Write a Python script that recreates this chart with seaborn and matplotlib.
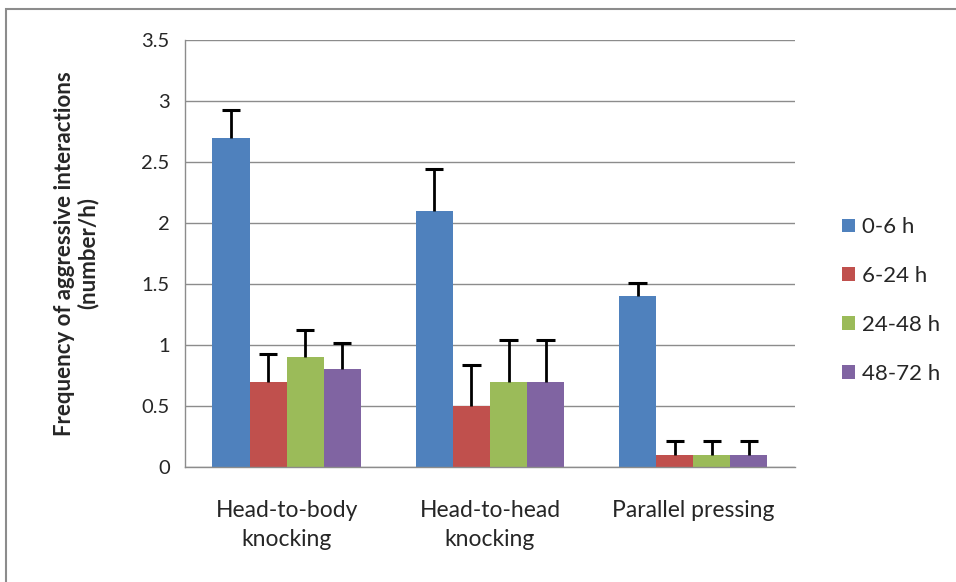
import pandas as pd
import numpy as np
import matplotlib.pyplot as plt
import seaborn as sns
from matplotlib.patches import Rectangle

categories = ["Head-to-body\nknocking", "Head-to-head\nknocking", "Parallel pressing"]
periods = ["0-6 h", "6-24 h", "24-48 h", "48-72 h"]
means = {
    "0-6 h": [2.7, 2.1, 1.4],
    "6-24 h": [0.7, 0.5, 0.1],
    "24-48 h": [0.9, 0.7, 0.1],
    "48-72 h": [0.8, 0.7, 0.1],
}
errors = {
    "0-6 h": [0.23, 0.34, 0.11],
    "6-24 h": [0.23, 0.34, 0.11],
    "24-48 h": [0.22, 0.34, 0.11],
    "48-72 h": [0.22, 0.34, 0.11],
}
colors = ["#4f81bd", "#c0504d", "#9bbb59", "#8064a2"]

rows = []
for p in periods:
    for c, m, e in zip(categories, means[p], errors[p]):
        rows.append({"behaviour": c, "period": p, "mean": m, "err": e})
df = pd.DataFrame(rows)

sns.set_style("white")
plt.rcParams["font.family"] = ["Lato", "DejaVu Sans"]

fig = plt.figure(figsize=(9.56, 5.82), dpi=100)
ax = fig.add_axes([0.1935, 0.1976, 0.638, 0.7337])

sns.barplot(data=df, x="behaviour", y="mean", hue="period", order=categories,
            hue_order=periods, palette=colors, width=0.73, saturation=1,
            errorbar=None, ax=ax, legend=True, linewidth=0)

# one-sided error bars, from the bar tops upwards
for container, p in zip(ax.containers, periods):
    sub = df[df["period"] == p].set_index("behaviour").loc[categories]
    xs = np.array([b.get_x() + b.get_width() / 2 for b in container])
    tops = sub["mean"].values + sub["err"].values
    ax.vlines(xs, sub["mean"].values, tops, color="black", linewidth=2, zorder=3)
    ax.hlines(tops, xs - 0.045, xs + 0.045, color="black", linewidth=2.2, zorder=3)

ax.set_ylim(0, 3.5)
ax.set_xlim(-0.5, 2.5)
ax.set_yticks(np.arange(0, 3.51, 0.5))
ax.set_yticklabels(["0", "0.5", "1", "1.5", "2", "2.5", "3", "3.5"], fontsize=14.5)
ax.yaxis.grid(True, color="#8c8c8c", linewidth=1)
ax.set_axisbelow(True)
ax.tick_params(axis="y", direction="out", length=5, color="#8c8c8c", pad=6)

ax.set_xticks([0, 1, 2])
ax.set_xticklabels(categories, fontsize=16.5, linespacing=1.45)
ax.set_xticks([-0.5, 0.5, 1.5, 2.5], minor=True)
ax.tick_params(axis="x", which="major", length=0, pad=24)
ax.tick_params(axis="x", which="minor", direction="out", length=6, color="#8c8c8c")
ax.set_xlabel("")
ax.set_ylabel("Frequency of aggressive interactions\n(number/h)", fontsize=16,
              fontweight="bold", labelpad=31, linespacing=1.1)

for s in ["top", "right"]:
    ax.spines[s].set_visible(False)
for s in ["left", "bottom"]:
    ax.spines[s].set_color("#8c8c8c")
    ax.spines[s].set_linewidth(1)

handles, labels = ax.get_legend_handles_labels()
ax.legend(handles, labels, loc="center left", bbox_to_anchor=(1.045, 0.39),
          frameon=False, fontsize=16, handlelength=0.55, handleheight=0.55,
          labelspacing=1.3, handletextpad=0.35)

fig.patches.append(Rectangle((0.006, -0.01), 1.2, 0.995, transform=fig.transFigure,
                             fill=False, edgecolor="#8c8c8c", linewidth=1.5))

fig.savefig("out.png", dpi=100)
